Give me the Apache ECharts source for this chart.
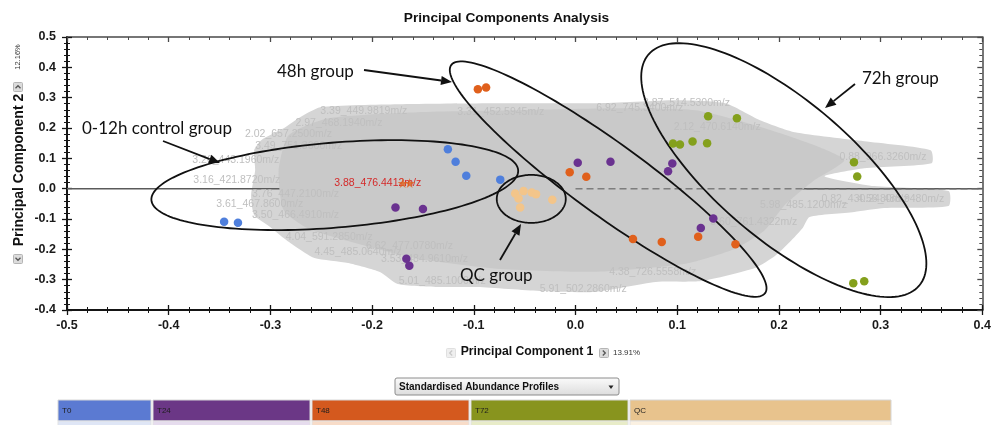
<!DOCTYPE html>
<html><head><meta charset="utf-8">
<script src="https://cdn.jsdelivr.net/npm/echarts@6/dist/echarts.min.js"></script>
<style>html,body{margin:0;padding:0;background:#fff;}#c{width:994px;height:425px;}</style>
</head><body><div id="c"></div>
<script>
// ---------------- DATA ----------------
const groups = ['T0', 'T24', 'T48', 'T72', 'QC'];
const t0X  = [-0.1255, -0.1179, -0.1074, -0.0740, -0.3455, -0.3319];
const t0Y  = [ 0.1302,  0.0884,  0.0423,  0.0298, -0.1091, -0.1125];
const t24X = [-0.1770, -0.1500, -0.1663, -0.1634, 0.0022, 0.0344, 0.0952, 0.0910, 0.1355, 0.1232];
const t24Y = [-0.0617, -0.0673, -0.2310, -0.2540, 0.0851, 0.0884, 0.0831, 0.0578, -0.0980, -0.1299];
const t48X = [-0.0960, -0.0879, -0.0057, 0.0106, 0.0565, 0.0848, 0.1206, 0.1573];
const t48Y = [ 0.3278,  0.3334,  0.0545, 0.0390, -0.1661, -0.1760, -0.1585, -0.1836];
const t72X = [0.1304, 0.1587, 0.0958, 0.1027, 0.1151, 0.1294, 0.2738, 0.2770, 0.2731, 0.2839];
const t72Y = [0.2389, 0.2323, 0.1490, 0.1457, 0.1556, 0.1500, 0.0874, 0.0403, -0.3120, -0.3054];
const qcX  = [-0.0593, -0.0560, -0.0511, -0.0430, -0.0388, -0.0228, -0.0544];
const qcY  = [-0.0156, -0.0321, -0.0081, -0.0123, -0.0180, -0.0367, -0.0617];

// highlighted loading (stars) and its label
const starX = [-0.1699, -0.1631];
const starY = [0.0183, 0.0183];
const highlightName = '3.88_476.4412m/z';
const highlightX = -0.2372, highlightY = 0.0183;

// loadings cloud outline (outer fringe and dense core)
const cloudOuterX = [-0.316,-0.309,-0.287,-0.2723,-0.2509,-0.1748,-0.0772,0.0204,0.0985,0.1473,0.1814,0.2156,0.2839,0.3492,0.3502,0.2839,0.2448,0.2936,0.3668,0.3668,0.3034,0.2741,0.2302,0.2234,0.2107,0.1961,0.1765,0.1238,0.0789,0.0184,-0.0352,-0.0967,-0.1357,-0.1748,-0.1923,-0.2236,-0.2567,-0.2762,-0.287,-0.3016,-0.316,-0.319,-0.315];
const cloudOuterY = [0.127,0.160,0.199,0.2323,0.2685,0.2784,0.2817,0.2817,0.2916,0.2817,0.2257,0.1862,0.1566,0.127,0.0841,0.0677,0.0413,0.0084,-0.0081,-0.0575,-0.0641,-0.0772,-0.0937,-0.1299,-0.176,-0.2221,-0.2616,-0.3044,-0.3077,-0.3406,-0.3373,-0.3242,-0.3242,-0.3143,-0.2748,-0.2452,-0.2287,-0.1892,-0.1628,-0.1233,-0.0871,-0.0212,0.0611];
const cloudCoreX = [-0.2821,-0.2431,-0.1553,-0.0577,0.0399,0.1180,0.1765,0.2351,0.2643,0.2351,0.2058,0.1863,0.1570,0.1082,0.0204,-0.0772,-0.1553,-0.2138,-0.2626,-0.2870,-0.2919];
const cloudCoreY = [0.1763,0.2323,0.2521,0.2586,0.2652,0.2586,0.2093,0.1434,0.0940,0.0282,-0.0542,-0.1365,-0.1980,-0.2473,-0.2737,-0.2638,-0.2309,-0.1815,-0.1321,-0.0706,0.0611];

// loading labels visible at the cloud edges
const loadingNames = ['3.39_449.9819m/z','3.31_452.5945m/z','2.97_468.1940m/z','2.02_657.2500m/z','3.49_751.3600m/z',
  '3.26_443.1960m/z','3.16_421.8720m/z','3.76_447.2100m/z','3.61_467.8600m/z','3.50_466.4910m/z',
  '4.04_591.2850m/z','4.45_485.0640m/z','6.62_477.0780m/z','3.53_484.9610m/z','5.01_485.1000m/z',
  '5.91_502.2860m/z','4.38_726.5558m/z','3.87_514.5300m/z','6.92_745.3400m/z','0.88_966.3260m/z',
  '0.82_430.2480m/z','4.56_488.9480m/z','5.60_761.4322m/z','2.12_470.6140m/z','5.98_485.1200m/z'];
const loadingX = [-0.2509,-0.1162,-0.2753,-0.325,-0.315,-0.3768,-0.3758,-0.318,-0.3533,-0.318,-0.285,-0.2567,-0.206,-0.1913,-0.1738,-0.0352,0.0331,0.0663,0.0204,0.2595,0.2419,0.277,0.1326,0.0965,0.1814];
const loadingY = [0.2553,0.2521,0.2158,0.1796,0.1401,0.0940,0.0282,-0.018,-0.0517,-0.0871,-0.1596,-0.2098,-0.1892,-0.2309,-0.3044,-0.3307,-0.2737,0.2817,0.2652,0.1039,-0.0344,-0.0344,-0.1101,0.2027,-0.0542];

// group ellipses (centres in data units)
const ellipseX = [-0.2367, 0.0321, 0.2048, -0.0435];
const ellipseY = [0.0117, 0.0315, 0.0611, -0.0337];

// zero reference line (full axis span) and the part seen through the sparse right side
const zeroLineX = [-0.5, 0.4];
const zeroLineRightX = [0.0, 0.4];

// ---------------- STYLE / LAYOUT ----------------
const groupColors = ['#4f7fdc', '#6a3290', '#e0601c', '#84a01c', '#f3c58a'];
const barColors   = ['#5b7ad2', '#6b3786', '#d4591e', '#88941e', '#e8c38d'];
const barLight    = ['#dfe6f6', '#e6dcee', '#f8dcc8', '#e8ecc8', '#fbf1e2'];
const barLeft  = [58, 153, 312, 471, 630];
const barWidth = [93, 157, 157, 157, 261];
const ellipseShape = [
  {rx: 184, ry: 42.5, angle: -4.7},
  {rx: 194, ry: 36, angle: 36},
  {rx: 178, ry: 69, angle: 40.5},
  {rx: 34.5, ry: 24, angle: 0}
];

const zip = (xs, ys) => xs.map((x, i) => [x, ys[i]]);
const fmt = v => (Math.abs(v) < 1e-9 ? 0 : v).toFixed(1);
const FONT = '"Liberation Sans", Arial, sans-serif';

function xAxisCfg(pos, inside, showLine, showLabel, lineColor, lw) {
  return {
    type: 'value', min: -0.5, max: 0.4, interval: 0.1, position: pos,
    axisLine: {show: showLine, onZero: false, lineStyle: {color: lineColor, width: lw}},
    axisTick: {show: true, inside: inside, length: 5, lineStyle: {color: lineColor, width: 1.3}},
    minorTick: {show: true, splitNumber: 5, length: 3, lineStyle: {color: lineColor, width: 1}},
    splitLine: {show: false}, minorSplitLine: {show: false},
    axisLabel: {show: showLabel, formatter: fmt, color: '#1a1a1a', fontSize: 12.5, fontWeight: 'bold', fontFamily: FONT, margin: 9}
  };
}
function yAxisCfg(pos, inside, showLine, showLabel, lineColor, lw) {
  return {
    type: 'value', min: -0.4, max: 0.5, interval: 0.1, position: pos,
    axisLine: {show: showLine, onZero: false, lineStyle: {color: lineColor, width: lw}},
    axisTick: {show: true, inside: inside, length: 5, lineStyle: {color: lineColor, width: 1.3}},
    minorTick: {show: true, splitNumber: 5, length: 3, lineStyle: {color: lineColor, width: 1}},
    splitLine: {show: false}, minorSplitLine: {show: false},
    axisLabel: {show: showLabel, formatter: fmt, color: '#1a1a1a', fontSize: 12.5, fontWeight: 'bold', fontFamily: FONT, margin: 11}
  };
}

function polygonSeries(xs, ys, fill, z) {
  return {
    type: 'custom', z: z, silent: true, animation: false,
    data: [[xs[0], ys[0]]],
    renderItem: function (params, api) {
      const pts = xs.map((x, i) => api.coord([x, ys[i]]));
      return {type: 'polygon', shape: {points: pts, smooth: 0.2}, style: {fill: fill, stroke: null}};
    }
  };
}

function scatter(name, xs, ys, color) {
  return {name: name, type: 'scatter', z: 6, data: zip(xs, ys), symbolSize: 8.5,
          itemStyle: {color: color, opacity: 1}, animation: false};
}

function arrow(x1, y1, x2, y2) {
  const a = Math.atan2(y2 - y1, x2 - x1), L = 11, W = 4.6;
  const bx = x2 - L * Math.cos(a), by = y2 - L * Math.sin(a);
  const px = -Math.sin(a) * W, py = Math.cos(a) * W;
  return [
    {type: 'line', z: 100, shape: {x1: x1, y1: y1, x2: bx, y2: by}, style: {stroke: '#111', lineWidth: 1.8}},
    {type: 'polygon', z: 100, shape: {points: [[x2, y2], [bx + px, by + py], [bx - px, by - py]]}, style: {fill: '#111'}}
  ];
}
function annot(text, x, y) {
  return {type: 'text', z: 100, x: x, y: y, style: {text: text, fill: '#111', font: '17px Lato, "Open Sans", sans-serif', align: 'left', verticalAlign: 'middle'}};
}
function smallBox(cx, cy, dir, faded) {
  const s = 4.5, c = faded ? '#c8c8c8' : '#555';
  let pts;
  if (dir === 'up') pts = [[cx - 2.5, cy + 1.2], [cx, cy - 1.3], [cx + 2.5, cy + 1.2]];
  else if (dir === 'down') pts = [[cx - 2.5, cy - 1.2], [cx, cy + 1.3], [cx + 2.5, cy - 1.2]];
  else if (dir === 'left') pts = [[cx + 1.2, cy - 2.5], [cx - 1.3, cy], [cx + 1.2, cy + 2.5]];
  else pts = [[cx - 1.2, cy - 2.5], [cx + 1.3, cy], [cx - 1.2, cy + 2.5]];
  return [
    {type: 'rect', z: 100, shape: {x: cx - s, y: cy - s, width: 2 * s, height: 2 * s, r: 1},
     style: {fill: faded ? '#efefef' : '#dcdcdc', stroke: faded ? '#e0e0e0' : '#b5b5b5', lineWidth: 1}},
    {type: 'polyline', z: 101, shape: {points: pts}, style: {stroke: c, lineWidth: 1.3, fill: null}}
  ];
}

const graphics = [];
graphics.push({type: 'text', z: 100, x: 506.5, y: 18, style: {text: 'Principal Components Analysis', fill: '#111', font: 'bold 13.7px ' + FONT, align: 'center', verticalAlign: 'middle'}});
graphics.push({type: 'text', z: 100, x: 19, y: 170, rotation: Math.PI / 2, style: {text: 'Principal Component 2', fill: '#111', font: 'bold 14px ' + FONT, align: 'center', verticalAlign: 'middle'}});
graphics.push({type: 'text', z: 100, x: 18, y: 57, rotation: Math.PI / 2, style: {text: '12.16%', fill: '#333', font: '7.5px ' + FONT, align: 'center', verticalAlign: 'middle'}});
graphics.push(...smallBox(18, 87, 'up', false));
graphics.push(...smallBox(18, 259, 'down', false));
graphics.push({type: 'text', z: 100, x: 527, y: 352, style: {text: 'Principal Component 1', fill: '#111', font: 'bold 12.2px ' + FONT, align: 'center', verticalAlign: 'middle'}});
graphics.push(...smallBox(451, 353, 'left', true));
graphics.push(...smallBox(604, 353, 'right', false));
graphics.push({type: 'text', z: 100, x: 613, y: 353, style: {text: '13.91%', fill: '#333', font: '8px ' + FONT, align: 'left', verticalAlign: 'middle'}});
// annotations
graphics.push(annot('0-12h control group', 82, 129));
graphics.push(...arrow(163, 141, 220, 163));
graphics.push(annot('48h group', 277, 72));
graphics.push(...arrow(364, 70, 452, 82));
graphics.push(annot('72h group', 862, 79));
graphics.push(...arrow(855, 84, 825, 108));
graphics.push(annot('QC group', 460, 276));
graphics.push(...arrow(500, 260, 521, 224));
// dropdown
graphics.push({type: 'rect', z: 100, shape: {x: 395, y: 378, width: 224, height: 17, r: 2},
  style: {fill: new echarts.graphic.LinearGradient(0, 0, 0, 1, [{offset: 0, color: '#fbfbfb'}, {offset: 1, color: '#dcdcdc'}]), stroke: '#8c8c8c', lineWidth: 1}});
graphics.push({type: 'text', z: 101, x: 399, y: 387, style: {text: 'Standardised Abundance Profiles', fill: '#111', font: 'bold 10px ' + FONT, align: 'left', verticalAlign: 'middle'}});
graphics.push({type: 'polygon', z: 101, shape: {points: [[608.5, 385.5], [613.5, 385.5], [611, 389]]}, style: {fill: '#222'}});
// colour bar
groups.forEach((g, i) => {
  graphics.push({type: 'rect', z: 100, shape: {x: barLeft[i], y: 400, width: barWidth[i], height: 21}, style: {fill: barColors[i], stroke: '#d6d6d6', lineWidth: 1}});
  graphics.push({type: 'rect', z: 100, shape: {x: barLeft[i], y: 421, width: barWidth[i], height: 5}, style: {fill: barLight[i], stroke: '#e2e2e2', lineWidth: 1}});
  graphics.push({type: 'text', z: 101, x: barLeft[i] + 4, y: 411, style: {text: g, fill: '#1e1e1e', font: '8px ' + FONT, align: 'left', verticalAlign: 'middle'}});
});

const chart = echarts.init(document.getElementById('c'));
chart.setOption({
  animation: false,
  backgroundColor: '#fff',
  grid: {left: 67, right: 5, top: 37, bottom: 115, containLabel: false},
  xAxis: [
    xAxisCfg('bottom', false, true, true, '#151515', 2),
    xAxisCfg('bottom', true, false, false, '#151515', 2),
    xAxisCfg('top', true, true, false, '#4a4a4a', 1.5)
  ],
  yAxis: [
    yAxisCfg('left', false, true, true, '#151515', 2),
    yAxisCfg('left', true, false, false, '#151515', 2),
    yAxisCfg('right', true, true, false, '#4a4a4a', 1.5)
  ],
  series: [
    polygonSeries(cloudOuterX, cloudOuterY, '#d5d5d5', 1),
    {type: 'line', z: 2, silent: true, data: zeroLineX.map(x => [x, 0]), showSymbol: false, symbol: 'none',
     lineStyle: {color: '#5a5a5a', width: 1.5}, animation: false},
    polygonSeries(cloudCoreX, cloudCoreY, '#c9c9c9', 3),
    {type: 'line', z: 3.5, silent: true, data: zeroLineRightX.map(x => [x, 0]), showSymbol: false, symbol: 'none',
     lineStyle: {color: '#6a6a6a', width: 1.5, type: [7, 4], opacity: 0.8}, animation: false},
    {type: 'custom', z: 4, silent: true, animation: false, data: zip(loadingX, loadingY),
     renderItem: function (params, api) {
       const p = api.coord([api.value(0), api.value(1)]);
       return {type: 'text', x: p[0], y: p[1], style: {text: loadingNames[params.dataIndex], fill: '#bfbfbf', font: '10.5px ' + FONT, align: 'left', verticalAlign: 'middle'}};
     }},
    {type: 'custom', z: 5, silent: true, animation: false, data: zip(ellipseX, ellipseY),
     renderItem: function (params, api) {
       const e = ellipseShape[params.dataIndex];
       const c = api.coord([api.value(0), api.value(1)]);
       const t = e.angle * Math.PI / 180, pts = [];
       for (let k = 0; k < 160; k++) {
         const ph = 2 * Math.PI * k / 160, ex = e.rx * Math.cos(ph), ey = e.ry * Math.sin(ph);
         pts.push([c[0] + ex * Math.cos(t) - ey * Math.sin(t), c[1] + ex * Math.sin(t) + ey * Math.cos(t)]);
       }
       return {type: 'polygon', shape: {points: pts}, style: {fill: null, stroke: '#111', lineWidth: 1.8}};
     }},
    scatter('T0', t0X, t0Y, groupColors[0]),
    scatter('T24', t24X, t24Y, groupColors[1]),
    scatter('T48', t48X, t48Y, groupColors[2]),
    scatter('T72', t72X, t72Y, groupColors[3]),
    scatter('QC', qcX, qcY, groupColors[4]),
    {type: 'custom', z: 7, silent: true, animation: false, data: [[highlightX, highlightY]],
     renderItem: function (params, api) {
       const p = api.coord([api.value(0), api.value(1)]);
       return {type: 'text', x: p[0], y: p[1], style: {text: highlightName, fill: '#d42a2a', font: '10.5px ' + FONT, align: 'left', verticalAlign: 'middle'}};
     }},
    {type: 'scatter', z: 8, data: zip(starX, starY), symbolSize: 10,
     symbol: 'path://M50,0 L61,35 L98,35 L68,57 L79,91 L50,70 L21,91 L32,57 L2,35 L39,35 Z',
     itemStyle: {color: groupColors[2]}, animation: false}
  ],
  graphic: graphics
});
</script>
</body></html>
